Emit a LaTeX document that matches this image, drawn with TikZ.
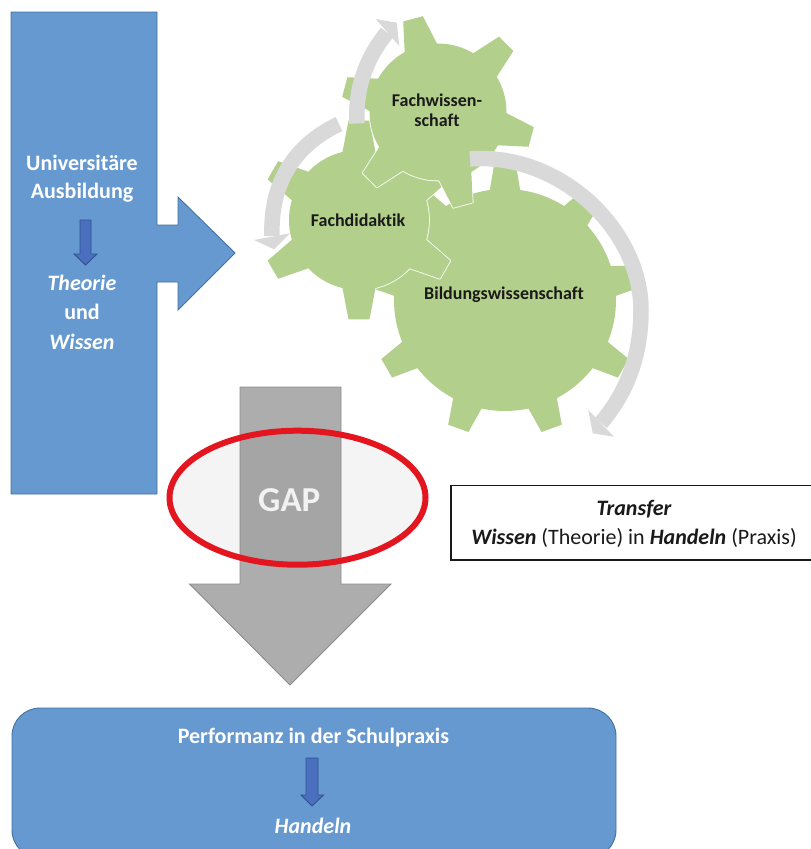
\documentclass[tikz,border=0pt]{standalone}
\usepackage{fontspec}
\setmainfont{Carlito}[Ligatures=NoCommon]
\definecolor{blueF}{HTML}{6699CF}
\definecolor{blueL}{HTML}{41719C}
\definecolor{arrF}{HTML}{4A6FBE}
\definecolor{arrL}{HTML}{2F528F}
\definecolor{gearF}{HTML}{B3CF8C}
\definecolor{swoosh}{HTML}{D9D9D9}
\definecolor{grayF}{HTML}{ADADAD}
\definecolor{grayL}{HTML}{8C8C8C}
\definecolor{gapred}{HTML}{E3161F}
\definecolor{txt}{HTML}{1A1A1A}
\tikzset{
  bluebox/.style={fill=blueF,draw=blueL,line width=0.9pt},
  smallarrow/.style={fill=arrF,draw=arrL,line width=0.9pt},
  swooshline/.style={draw=swoosh,line width=15.5pt},
  swooshhead/.style={fill=swoosh},
  whitetext/.style={text=white,font=\fontsize{22}{26}\selectfont\bfseries,inner sep=0pt,anchor=base},
  geartext/.style={text=txt,font=\fontsize{18}{21}\selectfont\bfseries,inner sep=0pt,anchor=base},
  plaintext/.style={text=txt,font=\fontsize{22}{26}\selectfont,inner sep=0pt,anchor=base}
}
% \gearshape{cx,cy}{body r}{tip r}{base half angle}{tip half angle}{angle list}
\newcommand{\gearshape}[6]{%
  \begin{scope}[shift={(#1)}]
    \foreach \a in {#6}{%
      \draw[white,line width=1.6pt,line join=round] (\a-#4:#2-1) -- (\a-#5:#3) -- (\a+#5:#3) -- (\a+#4:#2-1) -- cycle;
    }
    \draw[white,line width=1.6pt] (0,0) circle[radius=#2];
    \fill[gearF] (0,0) circle[radius=#2];
    \foreach \a in {#6}{%
      \fill[gearF] (\a-#4:#2-1) -- (\a-#5:#3) -- (\a+#5:#3) -- (\a+#4:#2-1) -- cycle;
    }
  \end{scope}}
\begin{document}
\begin{tikzpicture}[x=1pt,y=-1pt]
\useasboundingbox (0,0) rectangle (811,849);
% left block with arrow
\draw[bluebox] (11,12) -- (157,12) -- (157,225) -- (178,225) -- (178,197) -- (235,253) -- (178,310) -- (178,282) -- (157,282) -- (157,494) -- (11,494) -- cycle;
\draw[smallarrow] (80,220) -- (91,220) -- (91,254) -- (97,254) -- (85.5,265) -- (74,254) -- (80,254) -- cycle;
\node[whitetext] (t1) at (82,170) {Universitäre};
\node[whitetext] (t2) at (82,198) {Ausbildung};
\node[whitetext] (t3) at (82,290) {\itshape Theorie};
\node[whitetext] (t4) at (82,319) {und};
\node[whitetext] (t5) at (82,349) {\itshape Wissen};
% gears (angles negated: the y axis runs downward)
\gearshape{505,300}{111}{137}{8}{4.5}{-90,-50,-10,30,70,110,150,-170,-130}
\gearshape{359,220}{70}{100}{14}{6}{-90,-30,30,90,150,-150}
\gearshape{438,112}{68.5}{97}{14.5}{6}{-105,-45,15,75,135,-165}
% swooshes
\draw[swooshline] (357,123.5) .. controls (355,87) and (367,57) .. (387,32.5);
\fill[swooshhead] (375.7,19) -- (396.7,22.7) -- (399.3,46) -- cycle;
\draw[swooshline] (339,124) .. controls (297,144) and (270,180) .. (272,236);
\fill[swooshhead] (254,240) -- (290,233.3) -- (274,249.3) -- cycle;
\draw[swooshline] (470,159) .. controls (560,152) and (641,230) .. (641,310) .. controls (641,356) and (627,392) .. (601,423);
\fill[swooshhead] (588.3,410) -- (614,436.7) -- (592.7,433.3) -- cycle;
\node[geartext] (g1) at (437,106) {Fachwissen-};
\node[geartext] (g2) at (437,126) {schaft};
\node[geartext] (g3) at (358,226) {Fachdidaktik};
\node[geartext] (g4) at (504,299) {Bildungswissenschaft};
% gap arrow
\draw[fill=grayF,draw=grayL,line width=0.9pt] (240,387) -- (341,387) -- (341,584) -- (391,584) -- (290,685) -- (189.5,584) -- (240,584) -- cycle;
\draw[gapred,line width=6pt,fill=black,fill opacity=0.045,draw opacity=1] (297.5,497.7) ellipse[x radius=128,y radius=67];
\node[text=white!95!black,font=\fontsize{35}{40}\selectfont\bfseries,inner sep=0pt,anchor=base] (gap) at (289.3,511.5) {GAP};
% transfer box
\draw[txt,line width=1.2pt,fill=white] (451,485.7) rectangle (812,560);
\node[plaintext] (tr1) at (634,515) {\bfseries\itshape Transfer};
\node[plaintext] (tr2) at (634,544) {\textbf{\textit{Wissen}} (Theorie) in \textbf{\textit{Handeln}} (Praxis)};
% bottom block
\draw[bluebox] (12,858) [rounded corners=28pt] -- (12,708) -- (616,708) -- (616,858) -- cycle;
\node[whitetext] (b1) at (313.5,743) {Performanz in der Schulpraxis};
\draw[smallarrow] (306,758) -- (318,758) -- (318,795) -- (323.5,795) -- (312,806) -- (301,795) -- (306,795) -- cycle;
\node[whitetext] (b2) at (313,833) {\itshape Handeln};
\end{tikzpicture}
\end{document}
